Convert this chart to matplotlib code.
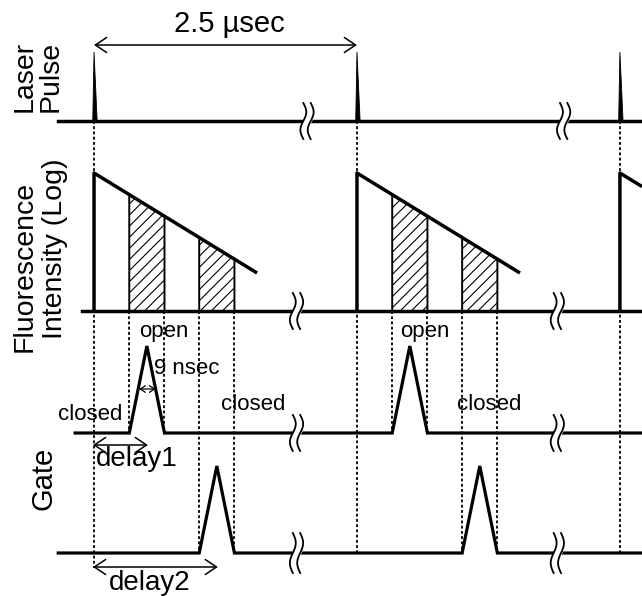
import matplotlib
matplotlib.use('Agg')
import matplotlib.pyplot as plt
import numpy as np

plt.rcParams['font.family'] = ['Liberation Sans', 'DejaVu Sans']
plt.rcParams['hatch.linewidth'] = 0.8

# timing in usec (schematic, not to scale inside one period)
period = 2.5
pulse_times = [0.0, 2.5, 5.0]
gate1_window = (0.335, 0.67)   # delay1 gate
gate2_window = (1.0, 1.335)    # delay2 gate
decay_len = 1.55
break_times = [1.93, 4.41]
laser_break_times = [1.99, 4.43]

# relative signal heights
laser_peak = 0.69
fluor_start = 1.38
fluor_end = 0.38
gate_peak = 0.87

# row baselines and where each row starts
laser_base, laser_x0 = 4.75, -0.34
fluor_base, fluor_x0 = 2.85, -0.115
gate1_base, gate1_x0 = 1.63, -0.18
gate2_base, gate2_x0 = 0.43, -0.34

xmin, xmax = -0.894, 5.21

fig = plt.figure(figsize=(6.42, 5.96), dpi=100)
ax = fig.add_axes([0, 0, 1, 1])
ax.set_xlim(xmin, xmax)
ax.set_ylim(0, 5.96)
ax.axis('off')

LW = 2.5
dot = dict(color='black', lw=1.3, linestyle=(0, (1.6, 1.3)), zorder=1)


def fluor(t, t0):
    return fluor_start - (fluor_start - fluor_end) * (t - t0) / decay_len


def draw_break(t, base, h=0.18, w=0.028, gap=0.07):
    s = np.linspace(-1, 1, 60)
    y = base + h * s
    x1 = t + w * np.sin(np.pi * s)
    x2 = x1 + gap
    ax.fill_betweenx(y, x1, x2, color='white', zorder=4)
    ax.plot(x1, y, color='black', lw=1.3, zorder=5)
    ax.plot(x2, y, color='black', lw=1.3, zorder=5)


# laser pulses
ax.plot([laser_x0, xmax], [laser_base, laser_base], color='black', lw=LW, zorder=3)
for t0 in pulse_times:
    ax.fill([t0 - 0.012, t0, t0 + 0.03], [laser_base, laser_base + laser_peak, laser_base],
            color='black', lw=0.6, zorder=3)
for tb in laser_break_times:
    draw_break(tb, laser_base)

# fluorescence decay
ax.plot([fluor_x0, xmax], [fluor_base, fluor_base], color='black', lw=LW, zorder=3)
for t0 in pulse_times:
    t1 = min(t0 + decay_len, xmax)
    ax.plot([t0, t0, t1], [fluor_base, fluor_base + fluor_start, fluor_base + fluor(t1, t0)],
            color='black', lw=LW, zorder=3, solid_capstyle='butt')
    for a, b in (gate1_window, gate2_window):
        a, b = a + t0, b + t0
        if b > xmax:
            continue
        ax.fill([a, a, b, b],
                [fluor_base, fluor_base + fluor(a, t0), fluor_base + fluor(b, t0), fluor_base],
                facecolor='white', edgecolor='black', hatch='///', lw=1.4, zorder=2)
for tb in break_times:
    draw_break(tb - 0.04, fluor_base)


# gates
def gate_trace(base, x0, win):
    xs, ys = [x0], [base]
    for t0 in pulse_times:
        a, b = win[0] + t0, win[1] + t0
        if b > xmax:
            continue
        xs += [a, (a + b) / 2, b]
        ys += [base, base + gate_peak, base]
    xs.append(xmax)
    ys.append(base)
    ax.plot(xs, ys, color='black', lw=2.3, zorder=3, solid_joinstyle='miter')


gate_trace(gate1_base, gate1_x0, gate1_window)
gate_trace(gate2_base, gate2_x0, gate2_window)
for tb in break_times:
    draw_break(tb - 0.04, gate1_base)
    draw_break(tb - 0.04, gate2_base, h=0.2)

# dotted guide lines
ax.plot([0, 0], [laser_base, 0.28], **dot)
for t0 in pulse_times[1:]:
    ax.plot([t0, t0], [laser_base, gate2_base], **dot)
for t0 in pulse_times:
    for e in gate1_window:
        if t0 + e < xmax:
            ax.plot([t0 + e, t0 + e], [fluor_base, gate1_base], **dot)
    for e in gate2_window:
        if t0 + e < xmax:
            ax.plot([t0 + e, t0 + e], [fluor_base, gate2_base], **dot)

# arrows
arr = dict(arrowstyle='<->,head_length=0.45,head_width=0.3', lw=1.1, color='black',
           shrinkA=0, shrinkB=0, mutation_scale=18)
ax.annotate('', xy=(0, 5.51), xytext=(period, 5.51), arrowprops=arr)
ax.text(period / 2 + 0.04, 5.72, '2.5 \u00b5sec', fontsize=21, ha='center', va='center')

g1_mid = sum(gate1_window) / 2
g2_mid = sum(gate2_window) / 2
ax.annotate('', xy=(-0.01, 1.51), xytext=(g1_mid + 0.01, 1.51), arrowprops=arr)
ax.text(0.41, 1.37, 'delay1', fontsize=20, ha='center', va='center')
ax.annotate('', xy=(-0.01, 0.29), xytext=(g2_mid + 0.01, 0.29), arrowprops=arr)
ax.text(0.53, 0.135, 'delay2', fontsize=20, ha='center', va='center')

small = dict(arrowstyle='<->,head_length=0.45,head_width=0.3', lw=0.9, color='black',
             shrinkA=0, shrinkB=0, mutation_scale=8)
ax.annotate('', xy=(0.43, 2.07), xytext=(0.585, 2.07), arrowprops=small)
ax.text(0.57, 2.28, '9 nsec', fontsize=16, ha='left', va='center')

ax.text(g1_mid + 0.16, 2.65, 'open', fontsize=16, ha='center', va='center')
ax.text(g1_mid + 0.14 + period, 2.65, 'open', fontsize=16, ha='center', va='center')
ax.text(-0.04, 1.82, 'closed', fontsize=16, ha='center', va='center')
ax.text(1.51, 1.91, 'closed', fontsize=16, ha='center', va='center')
ax.text(3.76, 1.91, 'closed', fontsize=16, ha='center', va='center')

# row labels
ax.text(-0.54, 5.2, 'Laser\nPulse', fontsize=20.5, rotation=90, ha='center', va='center',
        multialignment='center', linespacing=1.0)
ax.text(-0.656, 3.30, 'Fluorescence', fontsize=20.5, rotation=90, ha='center', va='center')
ax.text(-0.371, 3.47, 'Intensity (Log)', fontsize=20.5, rotation=90, ha='center', va='center')
ax.text(-0.485, 1.18, 'Gate', fontsize=21, rotation=90, ha='center', va='center')

fig.savefig('out.png', dpi=100)
plt.close(fig)
